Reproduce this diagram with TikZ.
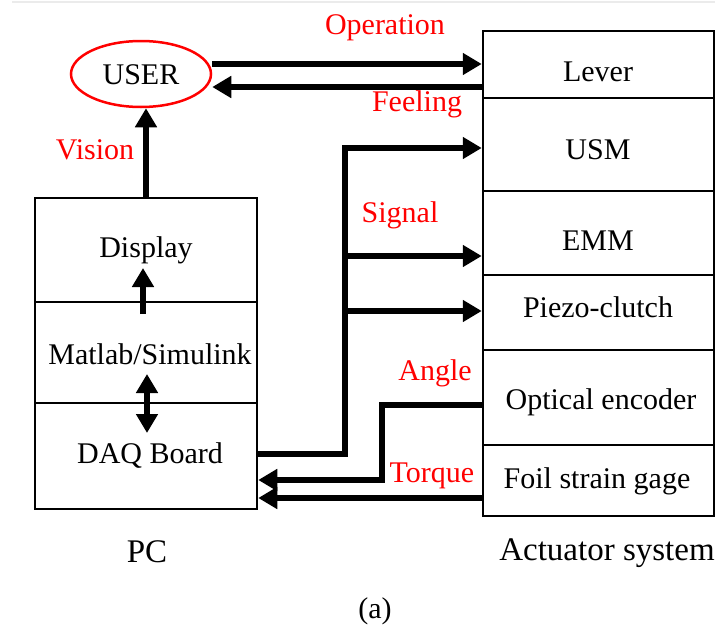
\documentclass[tikz,border=0pt]{standalone}
\usepackage{fontspec}
\setmainfont{Liberation Serif}
\usetikzlibrary{arrows.meta,shapes.geometric}
\begin{document}
\begin{tikzpicture}[x=1pt,y=-1pt,
  txt/.style={font=\fontsize{30}{33}\selectfont, inner sep=0pt, anchor=center},
  bigtxt/.style={font=\fontsize{33}{36}\selectfont, inner sep=0pt, anchor=center},
  rtxt/.style={txt, text=red},
  blk/.style={draw, line width=2.5pt, minimum width=#1, inner sep=0pt},
  flow/.style={line width=6pt, line join=miter},
  arr/.style={flow, -{Triangle[length=19pt,width=21pt]}},
  darr/.style={flow, {Triangle[length=19pt,width=21pt]}-{Triangle[length=19pt,width=21pt]}}
]
\useasboundingbox (0,0) rectangle (715,632);
\coordinate (g1) at (12,2);
\coordinate (g2) at (715,2);
\draw[black!8, line width=1.5pt] (g1) -- (g2);
% USER
\node[ellipse, draw=red, line width=2.5pt, minimum width=140pt, minimum height=66pt, inner sep=0pt] (user) at (141,74) {};
\node[txt] (usertxt) at (141,75) {USER};
% PC blocks
\node[blk=222pt, minimum height=104pt] (disp) at (146,250) {};
\node[blk=222pt, minimum height=101pt] (mat) at (146,352.5) {};
\node[blk=222pt, minimum height=106pt] (daq) at (146,456) {};
\node[txt] (disptxt) at (146,250) {Display};
\node[txt] (mattxt) at (150,354) {Matlab/Simulink};
\node[txt] (daqtxt) at (150,456) {DAQ Board};
\node[bigtxt] (pc) at (147,552) {PC};
% Actuator blocks
\node[blk=231pt, minimum height=67pt] (lever) at (598.5,64.5) {};
\node[blk=231pt, minimum height=93pt] (usm) at (598.5,144.5) {};
\node[blk=231pt, minimum height=84pt] (emm) at (598.5,233) {};
\node[blk=231pt, minimum height=75pt] (piezo) at (598.5,312.5) {};
\node[blk=231pt, minimum height=95pt] (optical) at (598.5,397.5) {};
\node[blk=231pt, minimum height=71pt] (foil) at (598.5,480.5) {};
\node[txt] (levertxt) at (598,72) {Lever};
\node[txt] (usmtxt) at (598,150) {USM};
\node[txt] (emmtxt) at (598,241) {EMM};
\node[txt] (piezotxt) at (598,307) {Piezo-clutch};
\node[txt] (opticaltxt) at (601,402) {Optical encoder};
\node[txt] (foiltxt) at (597,481) {Foil strain gage};
\node[bigtxt] (act) at (607,553) {Actuator system};
\node[txt] (cap) at (375,611) {(a)};
% red labels
\node[rtxt] (op) at (385,28) {Operation};
\node[rtxt] (feel) at (417,104) {Feeling};
\node[rtxt] (vis) at (95,150) {Vision};
\node[rtxt] (sig) at (400,215) {Signal};
\node[rtxt] (ang) at (435,373) {Angle};
\node[rtxt] (tor) at (432,476) {Torque};
% coordinates
\coordinate (d1) at (143,314);
\coordinate (d2) at (143,268);
\coordinate (m1) at (147,374);
\coordinate (m2) at (147,433);
\coordinate (s0) at (345,454);
\coordinate (s1) at (345,148);
\coordinate (s2) at (345,256);
\coordinate (s3) at (345,311);
\coordinate (a1) at (382,405);
\coordinate (a2) at (382,480);
% connectors
\draw[arr] (user.east |- 0,64) -- (lever.west |- 0,64);
\draw[arr] (lever.west |- 0,87) -- (user.east |- 0,87);
\draw[arr] (disp.north) -- (disp.north |- user.south);
\draw[arr] (d1) -- (d2);
\draw[darr] (m1) -- (m2);
\draw[arr] (daq.east |- s0) -- (s0) -- (s1) -- (usm.west |- s1);
\draw[arr] (s2) -- (emm.west |- s2);
\draw[arr] (s3) -- (piezo.west |- s3);
\draw[arr] (optical.west |- a1) -- (a1) -- (a2) -- (daq.east |- a2);
\draw[arr] (foil.west |- 0,498) -- (daq.east |- 0,498);
\end{tikzpicture}
\end{document}
